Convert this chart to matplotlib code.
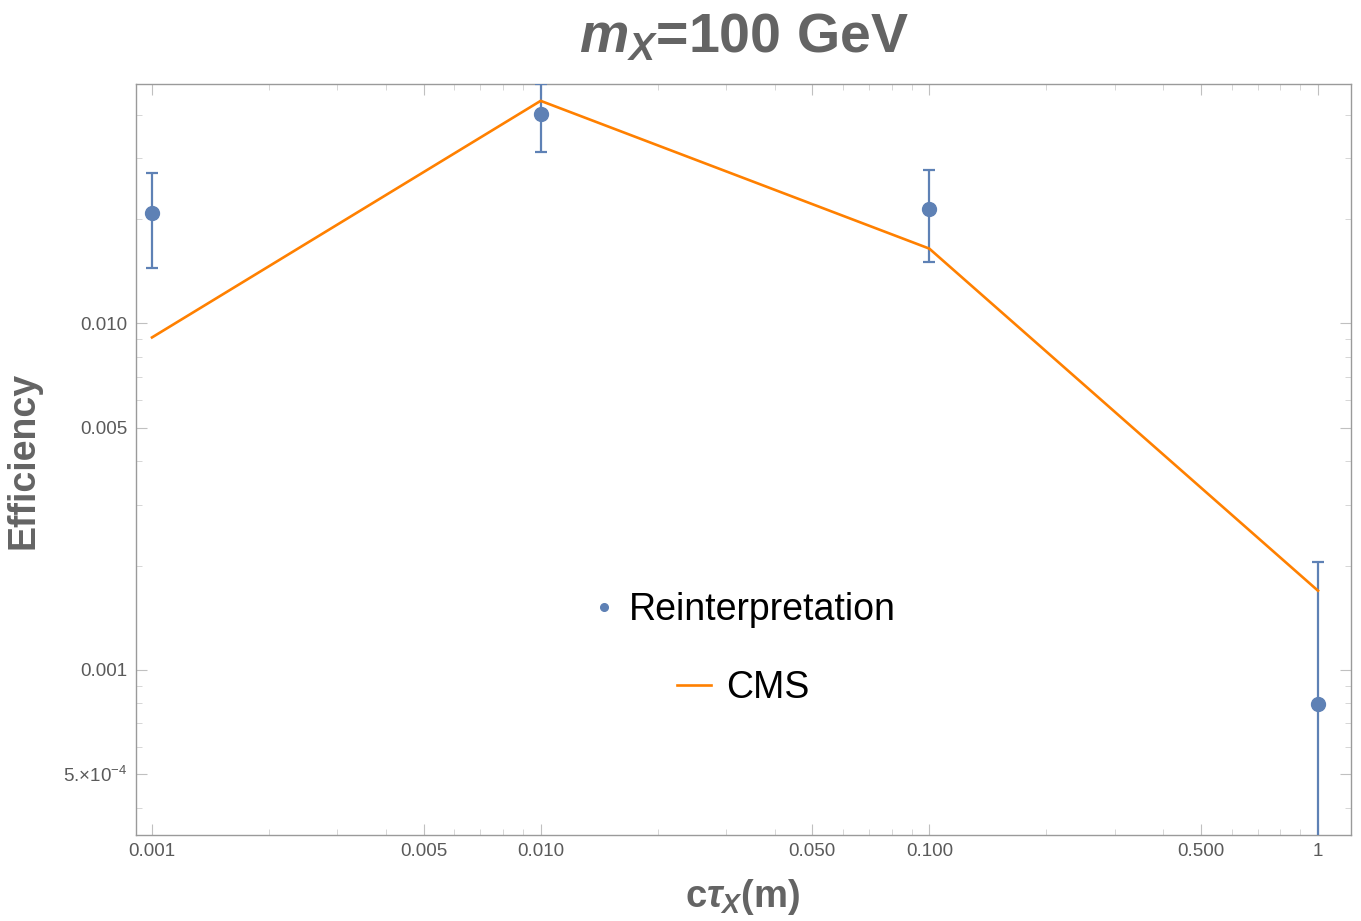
import numpy as np
import matplotlib
matplotlib.use("Agg")
import matplotlib.pyplot as plt
from matplotlib.lines import Line2D
from matplotlib.ticker import FixedLocator, NullFormatter

plt.rcParams['font.family'] = ['Liberation Sans', 'DejaVu Sans']
plt.rcParams['mathtext.fontset'] = 'custom'
plt.rcParams['mathtext.rm'] = 'Liberation Sans'
plt.rcParams['mathtext.it'] = 'Liberation Sans:italic:bold'
plt.rcParams['mathtext.bf'] = 'Liberation Sans:bold'

# ---- data ----
ctau = [0.001, 0.01, 0.1, 1.0]
reint_eff = [0.0208, 0.0402, 0.0214, 0.000797]
reint_err = [0.0063, 0.0089, 0.0064, 0.00125]
cms_eff = [0.00911, 0.0439, 0.01644, 0.001692]

xticks = [0.001, 0.005, 0.01, 0.05, 0.1, 0.5, 1.0]
xticklabels = ["0.001", "0.005", "0.010", "0.050", "0.100", "0.500", "1"]
yticks = [0.0005, 0.001, 0.005, 0.01]
yticklabels = ["5.×10$^{-4}$", "0.001", "0.005", "0.010"]

BLUE = '#5E81B5'
ORANGE = '#FF8000'
GRAY = '#646464'

fig = plt.figure(figsize=(13.61, 9.21), dpi=100)
ax = fig.add_axes([136/1361, 1-835/921, (1351-136)/1361, (835-84)/921])
ax.set_xscale('log')
ax.set_yscale('log')
ax.set_xlim(9.096e-4, 1.216)
ax.set_ylim(3.336e-4, 0.0491)

y = np.array(reint_eff)
e = np.array(reint_err)
lower = np.minimum(e, y - 1e-7)
ax.errorbar(ctau, y, yerr=[lower, e], fmt='o', color=BLUE, ms=10,
            elinewidth=1.6, capsize=4.5, capthick=1.6, zorder=3, clip_on=True)
ax.plot(ctau, cms_eff, color=ORANGE, lw=1.9, zorder=4)

# ticks
ax.xaxis.set_major_locator(FixedLocator(xticks))
ax.set_xticklabels(xticklabels)
xminor = [m * 10.0**k for k in range(-4, 1) for m in range(1, 10)]
ax.xaxis.set_minor_locator(FixedLocator(xminor))
ax.xaxis.set_minor_formatter(NullFormatter())
ax.yaxis.set_major_locator(FixedLocator(yticks))
ax.set_yticklabels(yticklabels)
yminor = [m * 10.0**k for k in range(-5, -1) for m in range(1, 10)]
ax.yaxis.set_minor_locator(FixedLocator(yminor))
ax.yaxis.set_minor_formatter(NullFormatter())

ax.tick_params(which='major', direction='in', length=8, width=0.8, color='#c0c0c0',
               top=True, right=True, labelsize=13.5, labelcolor='#5a5a5a', pad=6)
ax.tick_params(which='minor', direction='in', length=4, width=0.6, color='#d0d0d0',
               top=True, right=True)
for s in ax.spines.values():
    s.set_color('#9a9a9a')
    s.set_linewidth(1.0)

# titles / labels
fig.text(744/1361, 1-52/921, r'$m_X$=100 GeV', ha='center', va='baseline',
         fontsize=40, fontweight='bold', color=GRAY)
fig.text(743/1361, 1-907/921, r'c$\tau_X$(m)', ha='center', va='baseline',
         fontsize=27.5, fontweight='bold', color=GRAY)
fig.text(24/1361, 1-460/921, 'Efficiency', ha='center', va='center', rotation=90,
         fontsize=27, fontweight='bold', color=GRAY)

# legend (Mathematica-style centered entries)
h1 = Line2D([], [], marker='o', ls='none', color=BLUE, ms=5.5)
h2 = Line2D([], [], color=ORANGE, lw=1.9)
leg1 = ax.legend([h1], ['Reinterpretation'], loc='center',
                 bbox_to_anchor=(745/1361, 1-610/921), bbox_transform=fig.transFigure,
                 frameon=False, fontsize=27, handlelength=0.5, handletextpad=0.4,
                 borderpad=0, borderaxespad=0)
ax.add_artist(leg1)
leg2 = ax.legend([h2], ['CMS'], loc='center',
                 bbox_to_anchor=(743/1361, 1-688/921), bbox_transform=fig.transFigure,
                 frameon=False, fontsize=27, handlelength=0.92, handletextpad=0.4,
                 borderpad=0, borderaxespad=0)

fig.savefig('out.png', dpi=100)
